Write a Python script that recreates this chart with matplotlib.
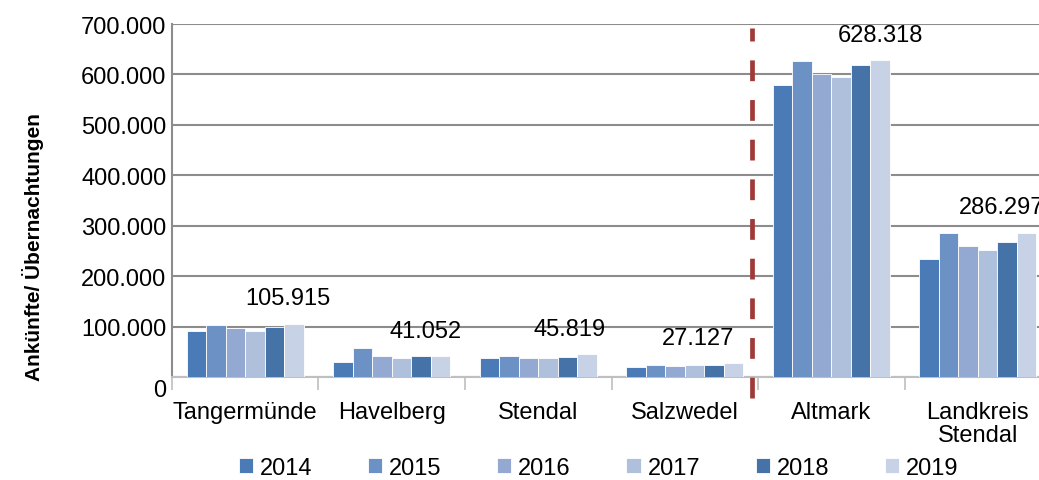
import matplotlib.pyplot as plt
import numpy as np
from matplotlib import font_manager
from matplotlib.transforms import ScaledTranslation

# data
orte = ['Tangermünde', 'Havelberg', 'Stendal', 'Salzwedel', 'Altmark', 'Landkreis\nStendal']
jahre = ['2014', '2015', '2016', '2017', '2018', '2019']
w2014 = [92000, 30000, 38000, 20500, 580000, 235000]
w2015 = [103000, 57000, 42000, 24000, 627000, 285000]
w2016 = [96500, 41000, 38000, 22000, 601000, 260000]
w2017 = [90500, 37000, 38000, 24500, 594000, 251000]
w2018 = [99000, 41000, 40000, 24500, 619000, 268000]
w2019 = [105915, 41052, 45819, 27127, 628318, 286297]
labels_2019 = ['105.915', '41.052', '45.819', '27.127', '628.318', '286.297']
farben = ['#4a7bb7', '#6b91c5', '#94a9d1', '#afc0dd', '#4673a7', '#c8d2e6']

fam = 'Liberation Sans'
for cand in ['Liberation Sans Narrow', 'Arial Narrow']:
    try:
        font_manager.findfont(cand, fallback_to_default=False)
        fam = cand
        break
    except Exception:
        pass
plt.rcParams['font.family'] = fam

fig = plt.figure(figsize=(10.39, 4.81), dpi=100)
ax = fig.add_axes([0.1655, 0.2141, 0.8461, 0.7339])

werte = [w2014, w2015, w2016, w2017, w2018, w2019]
x = np.arange(len(orte))
bw = 0.8 / 6
for i, (w, f) in enumerate(zip(werte, farben)):
    ax.bar(x + 0.1 + bw * (i + 0.5), w, bw, color=f, edgecolor='white', linewidth=0.6,
           label=jahre[i], zorder=3)

# label over the 2019 bars, shifted a bit as in the source
shift = [-0.04, -0.1, -0.12, -0.24, 0.0, -0.17]
for k in range(len(orte)):
    ax.text(x[k] + 0.1 + bw * 5.5 + shift[k], w2019[k] + 50000, labels_2019[k],
            ha='center', va='center', fontsize=17, zorder=5, clip_on=False)

ax.set_xlim(0, 6)
ax.set_ylim(0, 700000)
ax.set_yticks(np.arange(0, 700001, 100000))
ax.set_yticklabels(['0', '100.000', '200.000', '300.000', '400.000', '500.000', '600.000', '700.000'],
                   fontsize=17)
ax.tick_params(axis='y', length=0, pad=4)
ax.yaxis.grid(True, color='#8c8c8c', linewidth=1.5, zorder=0)
# the "0" sits a bit lower in the source
null_lbl = ax.get_yticklabels()[0]
null_lbl.set_transform(null_lbl.get_transform() + ScaledTranslation(0, -0.1, fig.dpi_scale_trans))

ax.set_xticks(np.arange(0, 7))
ax.set_xticklabels([])
ax.tick_params(axis='x', which='major', length=9, color='#bfbfbf', width=1.2)
ax.set_xticks(x + 0.5, minor=True)
ax.set_xticklabels(orte, minor=True, fontsize=17, linespacing=1.1)
ax.tick_params(axis='x', which='minor', length=0, pad=17)

for s in ['top', 'right']:
    ax.spines[s].set_visible(False)
ax.spines['left'].set_color('#8c8c8c')
ax.spines['left'].set_linewidth(1.5)
ax.spines['bottom'].set_color('#bfbfbf')
ax.spines['bottom'].set_linewidth(1.5)

ax.set_ylabel('Ankünfte/ Übernachtungen', fontsize=15, fontweight='bold')
ax.yaxis.set_label_coords(-0.146, 0.37)

# trennlinie zwischen staedten und kreisen
ax.axvline(3.96, ymin=-0.06, ymax=0.99, color='#a03a38', linewidth=3.4,
           dashes=(4.4, 4.0), clip_on=False, zorder=4)

leg = ax.legend(loc='upper left', bbox_to_anchor=(0.065, -0.2), ncol=6, frameon=False,
                fontsize=17, handlelength=0.6, handleheight=0.6, handletextpad=0.3,
                columnspacing=2.35, borderaxespad=0)

fig.savefig('out.png', dpi=100)
